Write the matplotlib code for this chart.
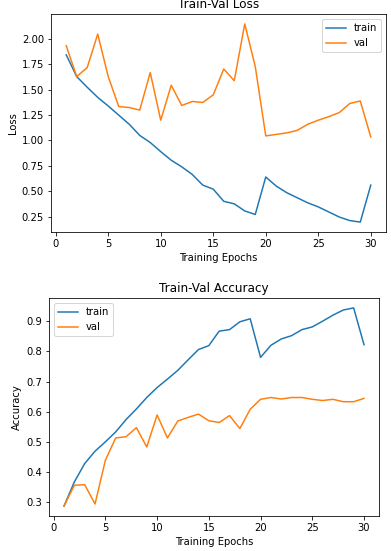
import matplotlib
matplotlib.use("Agg")
import matplotlib.pyplot as plt

epochs = list(range(1, 31))

train_loss = [1.845, 1.63, 1.525, 1.425, 1.34, 1.25, 1.16, 1.05, 0.98, 0.89,
              0.805, 0.74, 0.665, 0.56, 0.52, 0.40, 0.375, 0.305, 0.27, 0.64,
              0.55, 0.485, 0.435, 0.385, 0.345, 0.295, 0.245, 0.21, 0.195, 0.56]
val_loss = [1.935, 1.63, 1.72, 2.05, 1.63, 1.335, 1.325, 1.30, 1.67, 1.20,
            1.545, 1.345, 1.385, 1.375, 1.45, 1.705, 1.59, 2.15, 1.73, 1.045,
            1.06, 1.075, 1.10, 1.16, 1.20, 1.235, 1.275, 1.365, 1.39, 1.035]

train_acc = [0.287, 0.367, 0.428, 0.469, 0.50, 0.533, 0.574, 0.609, 0.647, 0.68,
             0.708, 0.737, 0.772, 0.806, 0.819, 0.867, 0.872, 0.898, 0.908, 0.78,
             0.82, 0.841, 0.852, 0.872, 0.881, 0.90, 0.92, 0.937, 0.944, 0.822]
val_acc = [0.287, 0.356, 0.358, 0.294, 0.439, 0.513, 0.517, 0.547, 0.483, 0.589,
           0.513, 0.569, 0.581, 0.592, 0.57, 0.564, 0.587, 0.544, 0.608, 0.641,
           0.647, 0.642, 0.647, 0.647, 0.641, 0.637, 0.641, 0.633, 0.633, 0.644]

W, H = 391, 551
fig = plt.figure(figsize=(W / 72, H / 72), dpi=72)

# loss panel (title slightly clipped at the top, as in the original)
ax1 = fig.add_axes([51 / W, (H - 232) / H, 335 / W, 218 / H])
ax1.plot(epochs, train_loss, label="train")
ax1.plot(epochs, val_loss, label="val")
ax1.set_title("Train-Val Loss")
ax1.set_xlabel("Training Epochs")
ax1.set_ylabel("Loss")
ax1.legend()

# accuracy panel
ax2 = fig.add_axes([49 / W, (H - 516) / H, 330 / W, 218 / H])
ax2.plot(epochs, train_acc, label="train")
ax2.plot(epochs, val_acc, label="val")
ax2.set_title("Train-Val Accuracy")
ax2.set_xlabel("Training Epochs")
ax2.set_ylabel("Accuracy")
ax2.legend()

fig.savefig("out.png", dpi=72)
